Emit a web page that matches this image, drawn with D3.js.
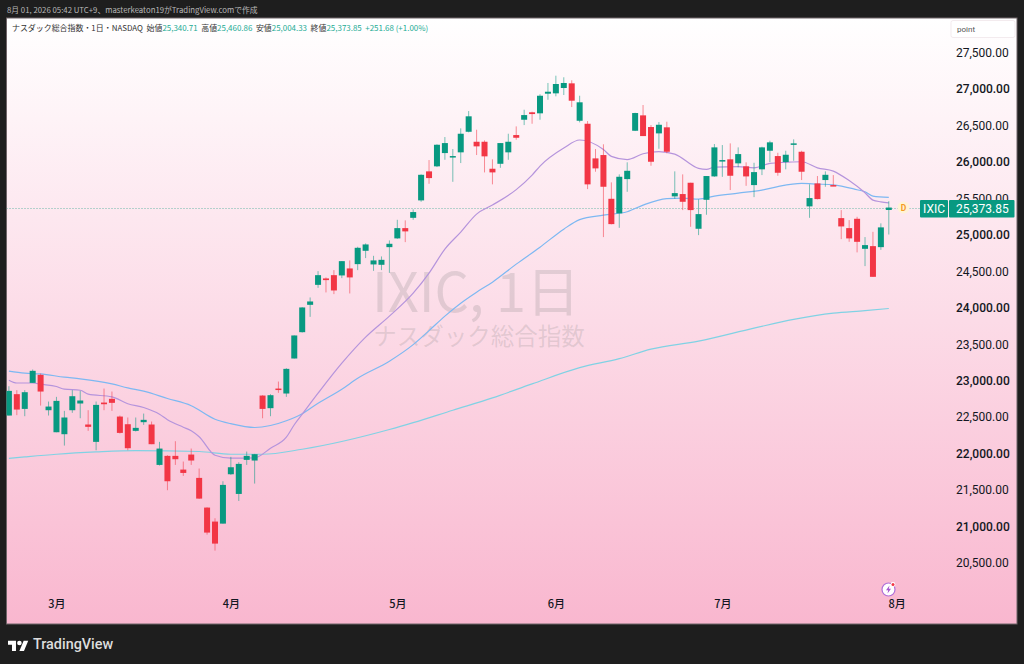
<!DOCTYPE html>
<html>
<head>
  <meta charset="utf-8">
  <title>IXIC daily</title>
  <style>
    html, body { margin: 0; padding: 0; background: #1e1e1e; overflow: hidden; }
    svg { display: block; }
    text { font-family: Roboto, "Noto Sans CJK JP", sans-serif; }
    .jp { font-family: "Noto Sans CJK JP", Roboto, sans-serif; }
    .domain, .tick line { display: none; }
  </style>
</head>
<body>
  <script src="https://d3js.org/d3.v7.min.js"></script>
  <script>
    // Daily candles (index 0 = leftmost candle)
    const opens = [
      22522, 22815, 22613, 22970, 23080, 22595, 22293, 22266, 22595, 22687,
      22399, 22161, 22700, 22751, 22508, 22403, 22312, 22431, 22399, 21845,
      21969, 21969, 21781, 21987, 21667, 21260, 21068, 21040, 21717, 21447,
      21914, 21905, 22796, 22623, 22892, 22824, 23304, 23665, 24040, 24314,
      24402, 24447, 24443, 24539, 24598, 24781, 24594, 24589, 24831, 24951,
      25092, 25233, 25472, 25870, 25939, 26121, 26070, 26131, 26413, 26276,
      26276, 25906, 25974, 26131, 26368, 26578, 26680, 26666, 26935, 26940,
      27013, 27077, 26564, 26523, 26048, 26094, 25494, 25294, 25764, 26427,
      26638, 26478, 26391, 26474, 25527, 25559, 25714, 25083, 25480, 25801,
      26011, 26035, 25980, 25939, 25682, 25898, 26153, 26080, 25998, 26245,
      26139, 25390, 25705, 25751, 25682, 25229, 25092, 25220, 24808, 24845,
      24831, 25340.71
    ];
    const closes = [
      22860, 22604, 22842, 23135, 22851, 22645, 22723, 22495, 22787, 22728,
      22367, 22668, 22677, 22696, 22284, 22074, 22353, 22463, 22129, 22069,
      21621, 21923, 21735, 21905, 21383, 20917, 20766, 21571, 21813, 21859,
      21969, 21992, 22613, 22801, 22874, 23162, 23620, 24004, 24086, 24447,
      24379, 24237, 24639, 24416, 24822, 24868, 24649, 24657, 24877, 25092,
      25047, 25312, 25823, 25778, 26235, 26258, 26080, 26386, 26625, 26213,
      26076, 25856, 26258, 26276, 26331, 26642, 26656, 26907, 26962, 27068,
      27082, 26839, 26817, 25692, 25911, 25659, 25147, 25796, 25878, 26670,
      26354, 26002, 26509, 26139, 25572, 25453, 25339, 25284, 25806, 26199,
      26025, 25810, 26107, 25801, 25860, 26199, 26268, 25851, 26098, 26254,
      25865, 25504, 25490, 25823, 25672, 25115, 24951, 24904, 24859, 24424,
      25102, 25373.85
    ];
    const highs = [
      22924, 22870, 22870, 23153, 23098, 22714, 22778, 22586, 22870, 22860,
      22595, 22714, 22892, 22851, 22522, 22495, 22495, 22549, 22440, 22161,
      21978, 22170, 21891, 22069, 21795, 21264, 21113, 21621, 21955, 21882,
      22028, 21996, 22801, 22815, 22988, 23171, 23620, 24008, 24141, 24502,
      24416, 24516, 24639, 24649, 24836, 24882, 24712, 24704, 24923, 25206,
      25198, 25349, 25829, 26025, 26241, 26341, 26176, 26460, 26697, 26441,
      26295, 26035, 26258, 26386, 26487, 26715, 26688, 26927, 27082, 27182,
      27160, 27119, 26907, 26560, 26176, 26241, 25719, 25829, 25994, 26674,
      26780, 26505, 26546, 26551, 25870, 25829, 25714, 25486, 25806, 26245,
      26231, 26254, 26199, 25994, 25988, 26208, 26290, 26125, 26153, 26309,
      26153, 25692, 25806, 25870, 25819, 25339, 25202, 25247, 24969, 25041,
      25157, 25460.86
    ];
    const lows = [
      22522, 22527, 22513, 22970, 22659, 22522, 22293, 22110, 22559, 22485,
      22312, 22046, 22595, 22586, 22275, 22046, 22303, 22394, 22129, 21836,
      21498, 21845, 21694, 21845, 21379, 20889, 20670, 21040, 21708, 21351,
      21845, 21589, 22485, 22513, 22833, 22778, 23304, 23660, 23875, 24273,
      24210, 24187, 24406, 24196, 24516, 24681, 24506, 24516, 24479, 24945,
      24900, 25206, 25453, 25700, 25929, 26029, 25727, 25984, 26405, 26094,
      25856, 25692, 25919, 26029, 26304, 26505, 26523, 26578, 26852, 26899,
      26917, 26752, 26542, 25627, 25865, 24969, 25143, 25096, 25590, 26423,
      26354, 25947, 26180, 26117, 25494, 25339, 25110, 24996, 25275, 25795,
      25795, 25614, 25925, 25672, 25517, 25819, 25998, 25810, 25898, 26015,
      25751, 25233, 25486, 25659, 25668, 24941, 24904, 24759, 24571, 24424,
      24794, 25004.33
    ];

    // Moving averages, sampled by candle index
    const purpleIdx = [0, 1, 3, 4, 6, 7, 9, 10, 13, 15, 17, 19, 20, 22, 23, 24, 26, 28, 31, 33, 35, 36, 37, 39, 42, 45, 48, 51, 53, 55, 57, 59, 61, 64, 66, 67, 70, 72, 75, 76, 78, 80, 82, 84, 87, 88, 89, 92, 94, 96, 98, 100, 102, 104, 106, 108, 109, 110, 111];
    const purpleVals = [23007, 22968, 22968, 22952, 22920, 22883, 22869, 22815, 22778, 22684, 22632, 22540, 22465, 22362, 22314, 22232, 21978, 21937, 21941, 22074, 22225, 22396, 22540, 22828, 23240, 23597, 23885, 24200, 24475, 24804, 25037, 25284, 25408, 25620, 25819, 25943, 26190, 26300, 26169, 26076, 26032, 26112, 26142, 26107, 25911, 25898, 25929, 25936, 25919, 25980, 25994, 26002, 25918, 25874, 25744, 25576, 25476, 25453, 25439];
    const blueIdx = [0, 2, 4, 7, 9, 13, 15, 17, 20, 23, 26, 28, 31, 33, 35, 37, 39, 42, 44, 48, 51, 53, 55, 57, 59, 61, 64, 67, 70, 72, 75, 78, 80, 83, 85, 87, 89, 92, 95, 97, 100, 102, 104, 107, 108, 109, 111];
    const blueVals = [23130, 23103, 23093, 23048, 23025, 22956, 22901, 22856, 22756, 22657, 22472, 22410, 22358, 22385, 22451, 22547, 22691, 22883, 23034, 23267, 23494, 23686, 23885, 24063, 24214, 24351, 24598, 24831, 25078, 25209, 25270, 25316, 25408, 25497, 25504, 25490, 25531, 25572, 25613, 25662, 25705, 25696, 25686, 25618, 25590, 25531, 25513];
    const cyanIdx = [0, 2, 6, 11, 16, 24, 28, 32, 37, 48, 51, 56, 61, 66, 72, 77, 81, 87, 94, 99, 104, 108, 111];
    const cyanVals = [21934, 21954, 21991, 22023, 22042, 22029, 21991, 21991, 22060, 22330, 22424, 22595, 22764, 22956, 23178, 23302, 23432, 23542, 23720, 23840, 23926, 23960, 23990];

    const priceTicks = [27500, 27000, 26500, 26000, 25500, 25000, 24500, 24000, 23500, 23000, 22500, 22000, 21500, 21000, 20500];
    const monthIdx = [6, 28, 49, 69, 90, 112];
    const monthLabels = ["3月", "4月", "5月", "6月", "7月", "8月"];
    const lastPrice = 25373.85;

    const width = 1024, height = 664;
    const panel = { x: 6.5, y: 18, w: 1010.5, h: 606 };
    const upColor = "#089981", downColor = "#f23645";

    const x = d3.scaleLinear().domain([0, 111]).range([8.9, 888.8]);
    const y = d3.scaleLinear().domain([20500, 27500]).range([563, 52.5]);

    const svg = d3.select("body").append("svg")
      .attr("width", width)
      .attr("height", height);

    const defs = svg.append("defs");
    const grad = defs.append("linearGradient")
      .attr("id", "bg").attr("x1", 0).attr("y1", 0).attr("x2", 0).attr("y2", 1);
    grad.append("stop").attr("offset", "0%").attr("stop-color", "#ffffff");
    grad.append("stop").attr("offset", "100%").attr("stop-color", "#f9b7cf");
    defs.append("clipPath").attr("id", "plot").append("rect")
      .attr("x", panel.x).attr("y", panel.y).attr("width", panel.w).attr("height", panel.h);

    // top caption
    svg.append("text")
      .attr("class", "jp")
      .attr("x", 7).attr("y", 13)
      .attr("font-size", 7.8)
      .attr("fill", "#b8b8b8")
      .text("8月 01, 2026 05:42 UTC+9、masterkeaton19がTradingView.comで作成");

    svg.append("rect")
      .attr("x", panel.x).attr("y", panel.y)
      .attr("width", panel.w).attr("height", panel.h)
      .attr("fill", "url(#bg)")
      .attr("stroke", "#6f6468")
      .attr("stroke-width", 1);

    // watermark
    svg.append("text")
      .attr("class", "jp")
      .attr("x", 476).attr("y", 312)
      .attr("text-anchor", "middle")
      .attr("font-size", 54)
      .attr("fill", "#7a7a7a").attr("fill-opacity", 0.2)
      .text("IXIC, 1日");
    svg.append("text")
      .attr("class", "jp")
      .attr("x", 479).attr("y", 345)
      .attr("text-anchor", "middle")
      .attr("font-size", 23.5)
      .attr("fill", "#7a7a7a").attr("fill-opacity", 0.2)
      .text("ナスダック総合指数");

    // price axis
    const yAxis = svg.append("g")
      .attr("transform", "translate(950,0)")
      .call(d3.axisRight(y).tickValues(priceTicks).tickSize(0).tickPadding(6)
        .tickFormat(d3.format(",.2f")));
    yAxis.selectAll("text")
      .attr("font-size", 12)
      .attr("font-weight", d => d % 1000 === 0 ? 500 : 400)
      .attr("fill", "#131722");

    // month axis
    const xAxis = svg.append("g")
      .attr("transform", "translate(0,600)")
      .call(d3.axisBottom(x).tickValues(monthIdx).tickSize(0).tickPadding(0)
        .tickFormat((d, i) => monthLabels[i]));
    xAxis.selectAll("text")
      .attr("class", "jp")
      .attr("font-size", 11)
      .attr("font-weight", 500)
      .attr("fill", "#131722");

    const chart = svg.append("g").attr("clip-path", "url(#plot)");

    // last price dotted line
    chart.append("line")
      .attr("x1", panel.x).attr("x2", 920)
      .attr("y1", Math.round(y(lastPrice)) + 0.5).attr("y2", Math.round(y(lastPrice)) + 0.5)
      .attr("stroke", "#3aa892")
      .attr("stroke-opacity", 0.75)
      .attr("stroke-dasharray", "1 2");

    // moving averages
    const line = d3.line()
      .x(d => x(d[0]))
      .y(d => y(d[1]))
      .curve(d3.curveMonotoneX);

    const maLines = [
      { idx: cyanIdx, vals: cyanVals, color: "#80d2e4" },
      { idx: blueIdx, vals: blueVals, color: "#7db8f2" },
      { idx: purpleIdx, vals: purpleVals, color: "#b594dc" }
    ];
    maLines.forEach(function(ma) {
      chart.append("path")
        .attr("d", line(d3.zip(ma.idx, ma.vals)))
        .attr("fill", "none")
        .attr("stroke", ma.color)
        .attr("stroke-width", 1.2);
    });

    // candles
    const candles = d3.range(opens.length);
    const isUp = i => closes[i] >= opens[i];

    chart.selectAll(".wick")
      .data(candles)
      .enter()
      .append("line")
      .attr("class", "wick")
      .attr("x1", i => x(i)).attr("x2", i => x(i))
      .attr("y1", i => y(highs[i])).attr("y2", i => y(lows[i]))
      .attr("stroke", i => isUp(i) ? upColor : downColor)
      .attr("stroke-opacity", 0.55)
      .attr("stroke-width", 1);

    chart.selectAll(".body")
      .data(candles)
      .enter()
      .append("rect")
      .attr("class", "body")
      .attr("x", i => x(i) - 3)
      .attr("width", 6)
      .attr("y", i => y(Math.max(opens[i], closes[i])))
      .attr("height", i => Math.max(1.5, Math.abs(y(opens[i]) - y(closes[i]))))
      .attr("fill", i => isUp(i) ? upColor : downColor);

    // dividend marker
    const markY = y(lastPrice);
    svg.append("circle").attr("cx", 903.5).attr("cy", markY).attr("r", 6).attr("fill", "#fff3d6");
    svg.append("text")
      .attr("x", 903.5).attr("y", markY + 3)
      .attr("text-anchor", "middle")
      .attr("font-size", 8.5)
      .attr("font-weight", 700)
      .attr("fill", "#f59a23")
      .text("D");

    // last price tags
    svg.append("rect").attr("x", 920).attr("y", 200).attr("width", 28).attr("height", 17.5).attr("rx", 1).attr("fill", upColor);
    svg.append("rect").attr("x", 949).attr("y", 200).attr("width", 65.5).attr("height", 17.5).attr("rx", 1).attr("fill", upColor);
    svg.append("text")
      .attr("x", 934).attr("y", 213)
      .attr("text-anchor", "middle")
      .attr("font-size", 12)
      .attr("fill", "#ffffff")
      .text("IXIC");
    svg.append("text")
      .attr("x", 956).attr("y", 213)
      .attr("font-size", 12)
      .attr("fill", "#ffffff")
      .text(d3.format(",.2f")(lastPrice));

    // unit box
    svg.append("rect")
      .attr("x", 951).attr("y", 20.5).attr("width", 64).attr("height", 17)
      .attr("rx", 2).attr("fill", "#ffffff")
      .attr("stroke", "#f0e6ea").attr("stroke-width", 0.8);
    svg.append("text")
      .attr("x", 957).attr("y", 32)
      .attr("font-size", 8)
      .attr("fill", "#555555")
      .text("point");

    // OHLC legend
    const legend = svg.append("text")
      .attr("class", "jp")
      .attr("x", 12).attr("y", 31)
      .attr("font-size", 7.95)
      .attr("fill", "#333333")
      .attr("xml:space", "preserve");
    const legendParts = [
      ["ナスダック総合指数・1日・NASDAQ  ", "#333333"],
      ["始値", "#333333"], ["25,340.71  ", "#22ab94"],
      ["高値", "#333333"], ["25,460.86  ", "#22ab94"],
      ["安値", "#333333"], ["25,004.33  ", "#22ab94"],
      ["終値", "#333333"], ["25,373.85  ", "#22ab94"],
      ["+251.68 (+1.00%)", "#22ab94"]
    ];
    legendParts.forEach(function(p) {
      legend.append("tspan").attr("fill", p[1]).text(p[0]);
    });

    // lightning badge
    const badge = svg.append("g").attr("transform", "translate(888.5,589.5)");
    badge.append("circle").attr("r", 6.5).attr("fill", "#ffffff").attr("stroke", "#b06fd8").attr("stroke-width", 1.2);
    badge.append("path").attr("d", "M1 -4 L-2.5 0.8 L-0.3 0.8 L-1 4 L2.5 -0.8 L0.3 -0.8 Z").attr("fill", "#a455d0");
    badge.append("circle").attr("cx", 4.5).attr("cy", -5).attr("r", 2.4).attr("fill", "#ffffff");
    badge.append("circle").attr("cx", 4.5).attr("cy", -5).attr("r", 1.5).attr("fill", "#f23645");

    // TradingView logo
    const logo = svg.append("g").attr("transform", "translate(8,638.5) scale(0.57)").attr("fill", "#ffffff");
    logo.append("path").attr("d", "M14 22H7V11H0V4h14v18z");
    logo.append("path").attr("d", "M28 22h-8l7.5-18h8L28 22z");
    logo.append("circle").attr("cx", 20).attr("cy", 8).attr("r", 4);
    svg.append("text")
      .attr("x", 33).attr("y", 649)
      .attr("font-size", 14.4)
      .attr("font-weight", 500)
      .attr("fill", "#dddddd")
      .text("TradingView");
  </script>
</body>
</html>
